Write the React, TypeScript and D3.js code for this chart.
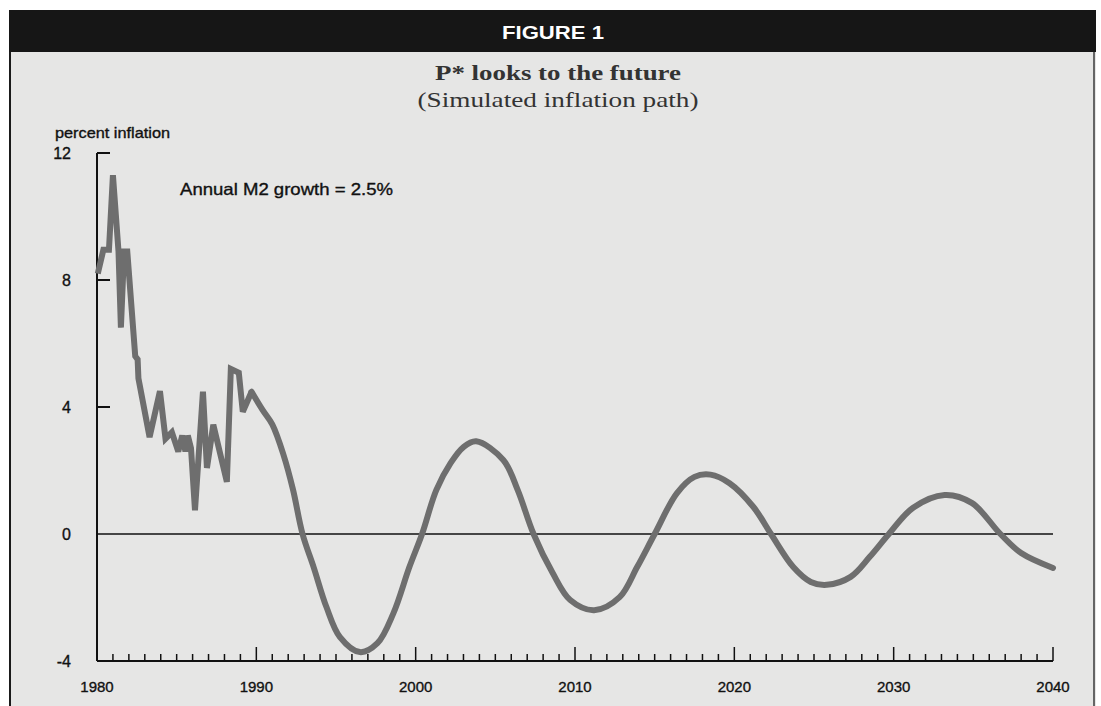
import React from "react";
import * as d3 from "d3";

// ---- data ----
const histYears = [1980.05, 1980.4, 1980.75, 1981.0, 1981.35, 1981.5, 1981.7, 1981.9, 1982.4, 1982.55, 1982.6, 1983.3, 1983.95, 1984.3, 1984.7, 1985.1, 1985.35, 1985.55, 1985.7, 1985.9, 1986.15, 1986.65, 1986.9, 1987.3, 1988.15, 1988.4, 1988.9, 1989.15, 1989.7];
const histValues = [8.2, 8.95, 8.95, 11.3, 8.9, 6.5, 8.9, 8.9, 5.6, 5.5, 4.9, 3.05, 4.5, 3.0, 3.2, 2.6, 3.1, 2.6, 3.1, 2.7, 0.75, 4.48, 2.08, 3.44, 1.64, 5.2, 5.08, 3.85, 4.48];

const simYears = [1990.4, 1991.0, 1991.7, 1992.3, 1992.9, 1993.6, 1994.4, 1995.25, 1996.5, 1997.6, 1998.6, 1999.6, 2000.4, 2001.3, 2002.2, 2003.0, 2003.8, 2005.5, 2006.4, 2007.4, 2008.6, 2009.7, 2011.2, 2012.8, 2013.9, 2015.0, 2016.4, 2017.5, 2018.5, 2019.7, 2021.2, 2022.3, 2023.7, 2024.8, 2025.8, 2027.3, 2028.5, 2029.7, 2031.2, 2033.2, 2034.9, 2036.7, 2038.0, 2040.0];
const simValues = [3.9, 3.45, 2.5, 1.4, 0, -1.05, -2.3, -3.25, -3.72, -3.44, -2.5, -1.05, 0, 1.39, 2.24, 2.74, 2.92, 2.33, 1.39, 0, -1.23, -2.08, -2.4, -1.99, -1.04, 0, 1.29, 1.8, 1.87, 1.6, 0.85, 0, -1.04, -1.51, -1.6, -1.35, -0.72, 0, 0.82, 1.23, 0.98, 0, -0.6, -1.07];

const yTicks = [-4, 0, 4, 8, 12];
const xLabelYears = [1980, 1990, 2000, 2010, 2020, 2030, 2040];
const minorYears = d3.range(1980, 2041, 1);

const figureLabel = "FIGURE 1";
const titleText = "P* looks to the future";
const subtitleText = "(Simulated inflation path)";
const yAxisTitle = "percent inflation";
const annotation = "Annual M2 growth = 2.5%";

export default function App() {
  const W = 1101, H = 706;
  const x = d3.scaleLinear().domain([1980, 2040]).range([97, 1053]);
  const y = d3.scaleLinear().domain([-4, 12]).range([661, 153]);

  const hist = histYears.map((t, i) => [t, histValues[i]] as [number, number]);
  const sim = [hist[hist.length - 1], ...simYears.map((t, i) => [t, simValues[i]] as [number, number])];

  const lineLin = d3.line<[number, number]>().x(d => x(d[0])).y(d => y(d[1])).curve(d3.curveLinear);
  const lineSmooth = d3.line<[number, number]>().x(d => x(d[0])).y(d => y(d[1])).curve(d3.curveCatmullRom.alpha(0.5));

  const sans = "'Liberation Sans', Arial, Helvetica, sans-serif";
  const serif = "'Liberation Serif', 'Times New Roman', serif";
  const axisY = y(-4);
  const seriesColor = "#6e6e6e";
  const heavy = { stroke: "#111", strokeWidth: 0.35 };

  return (
    <div style={{ position: "absolute", left: 0, top: 0, width: W, height: H }}>
      <svg width={W} height={H} viewBox={`0 0 ${W} ${H}`} style={{ display: "block" }}>
        <rect x={0} y={0} width={W} height={H} fill="#ffffff" />
        {/* panel */}
        <rect x={9} y={10} width={1087} height={H - 10} fill="#e6e6e5" />
        <line x1={10} y1={10} x2={10} y2={H} stroke="#1a1a1a" strokeWidth={2} />
        <line x1={1094} y1={52} x2={1094} y2={H} stroke="#3a3a3a" strokeWidth={1.5} />
        {/* header bar */}
        <rect x={9} y={10} width={1087} height={42} fill="#161616" />
        <text x={553} y={39} textAnchor="middle" fill="#ffffff" fontFamily={sans} fontWeight="bold" fontSize={18} textLength={102} lengthAdjust="spacingAndGlyphs">{figureLabel}</text>

        {/* titles */}
        <text x={558} y={80} textAnchor="middle" fill="#333" fontFamily={serif} fontWeight="bold" fontSize={22} textLength={246} lengthAdjust="spacingAndGlyphs">{titleText}</text>
        <text x={558} y={107} textAnchor="middle" fill="#333" fontFamily={serif} fontSize={21} textLength={281} lengthAdjust="spacingAndGlyphs">{subtitleText}</text>

        {/* y axis title */}
        <text x={55} y={138} fill="#111" fontFamily={sans} fontSize={15} textLength={115} lengthAdjust="spacingAndGlyphs" {...heavy}>{yAxisTitle}</text>

        {/* annotation */}
        <text x={180} y={195} fill="#111" fontFamily={sans} fontSize={16.5} textLength={213} lengthAdjust="spacingAndGlyphs" {...heavy}>{annotation}</text>

        {/* y axis */}
        <line x1={x(1980)} y1={y(12)} x2={x(1980)} y2={axisY} stroke="#111" strokeWidth={2} />
        {yTicks.map(v => (
          <g key={v}>
            {v > 0 && <line x1={x(1980)} y1={y(v)} x2={x(1980) + 13} y2={y(v)} stroke="#111" strokeWidth={2} />}
            <text x={71} y={y(v)} dy="0.36em" textAnchor="end" fill="#111" fontFamily={sans} fontSize={16} {...heavy}>{v}</text>
          </g>
        ))}

        {/* zero line */}
        <line x1={x(1980)} y1={y(0)} x2={x(2040)} y2={y(0)} stroke="#111" strokeWidth={1.6} />

        {/* x axis */}
        <line x1={x(1980)} y1={axisY} x2={x(2040)} y2={axisY} stroke="#111" strokeWidth={2} />
        {minorYears.map(t => {
          const major = t % 10 === 0;
          return <line key={t} x1={x(t)} y1={axisY} x2={x(t)} y2={axisY - (major ? 14 : 7)} stroke="#111" strokeWidth={1.5} />;
        })}
        {xLabelYears.map(t => (
          <text key={t} x={x(t)} y={692} textAnchor="middle" fill="#111" fontFamily={sans} fontSize={15} {...heavy}>{t}</text>
        ))}

        {/* series */}
        <path d={lineLin(hist) || ""} fill="none" stroke={seriesColor} strokeWidth={6} strokeLinejoin="miter" strokeMiterlimit={3} />
        <path d={lineSmooth(sim) || ""} fill="none" stroke={seriesColor} strokeWidth={6} strokeLinejoin="round" strokeLinecap="round" />
      </svg>
    </div>
  );
}
